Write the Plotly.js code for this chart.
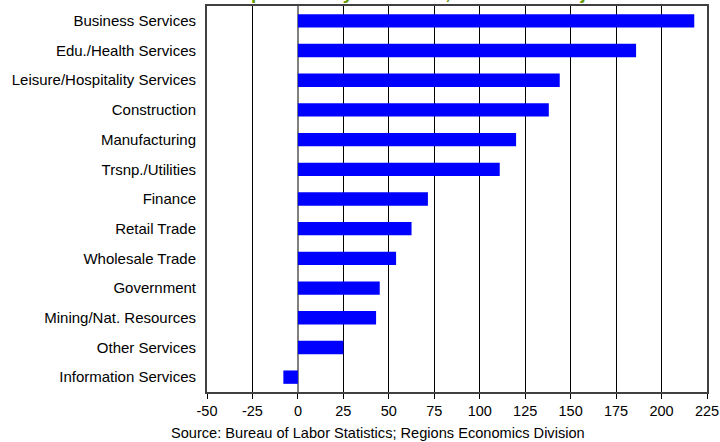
<!DOCTYPE html>
<html>
<head>
<meta charset="utf-8">
<script src="https://cdn.plot.ly/plotly-3.0.1.min.js"></script>
<style>html,body{margin:0;padding:0;background:#fff;}#chart{width:720px;height:442px;}</style>
</head>
<body>
<div id="chart"></div>
<script>
const categories = ["Business Services","Edu./Health Services","Leisure/Hospitality Services","Construction","Manufacturing","Trsnp./Utilities","Finance","Retail Trade","Wholesale Trade","Government","Mining/Nat. Resources","Other Services","Information Services"];
const jobGrowth = [218, 186, 144, 138, 120, 111, 71.5, 62.5, 54, 45, 43, 25, -8];
const xTickVals = [-50,-25,0,25,50,75,100,125,150,175,200,225];
const xTickText = ["-50","-25","0","25","50","75","100","125","150","175","200","225"];
const titleText = "preliminary 2015 data, thousands of jobs";
const sourceText = "Source: Bureau of Labor Statistics; Regions Economics Division";

const FONT = "Liberation Sans, Arial, sans-serif";
const xMin = -50, xMax = 225;
const zeroFrac = (0 - xMin) / (xMax - xMin);
const boundaries = categories.slice(1).map((c, i) => i + 0.5);

const data = [{
  type: "bar",
  orientation: "h",
  y: categories,
  x: jobGrowth,
  marker: {color: "#0000FF", line: {width: 0}},
  hoverinfo: "x+y"
}];

const layout = {
  width: 720, height: 442,
  margin: {l: 207, r: 13, t: 6, b: 50},
  paper_bgcolor: "#fff", plot_bgcolor: "#fff",
  font: {family: FONT, size: 14, color: "#000"},
  showlegend: false,
  bargap: 0.55,
  xaxis: {
    range: [xMin, xMax],
    tickvals: xTickVals, ticktext: xTickText,
    ticks: "outside", ticklen: 5, tickcolor: "#000", tickwidth: 1,
    showgrid: true, gridcolor: "#000", gridwidth: 1,
    showline: true, linecolor: "#404040", linewidth: 2, mirror: true,
    zeroline: true, zerolinecolor: "#808080", zerolinewidth: 2,
    tickfont: {family: FONT, size: 14.5, color: "#000"},
    fixedrange: true
  },
  yaxis: {
    type: "category",
    categoryorder: "array", categoryarray: categories,
    autorange: "reversed",
    ticks: "", ticklabelstandoff: 6,
    showgrid: false, zeroline: false,
    showline: true, linecolor: "#404040", linewidth: 2, mirror: true,
    tickfont: {family: FONT, size: 15, color: "#000"},
    fixedrange: true
  },
  yaxis2: {
    overlaying: "y", anchor: "free", position: zeroFrac, side: "left",
    range: [categories.length - 0.5, -0.5],
    tickvals: boundaries,
    ticks: "outside", ticklen: 4, tickcolor: "#000", tickwidth: 1,
    showticklabels: false, showgrid: false, zeroline: false, showline: false,
    fixedrange: true
  },
  annotations: [
    {
      text: "<b>" + titleText + "</b>",
      xref: "paper", yref: "paper", x: 0.456, y: 1, xanchor: "center", yanchor: "bottom",
      yshift: 1, showarrow: false,
      font: {family: FONT, size: 19, color: "#669900"}
    },
    {
      text: sourceText,
      xref: "paper", yref: "paper", x: 0.342, y: -0.106, xanchor: "center", yanchor: "middle",
      showarrow: false,
      font: {family: FONT, size: 14.6, color: "#000"}
    }
  ]
};

Plotly.newPlot("chart", data, layout, {displayModeBar: false, staticPlot: true});
</script>
</body>
</html>
